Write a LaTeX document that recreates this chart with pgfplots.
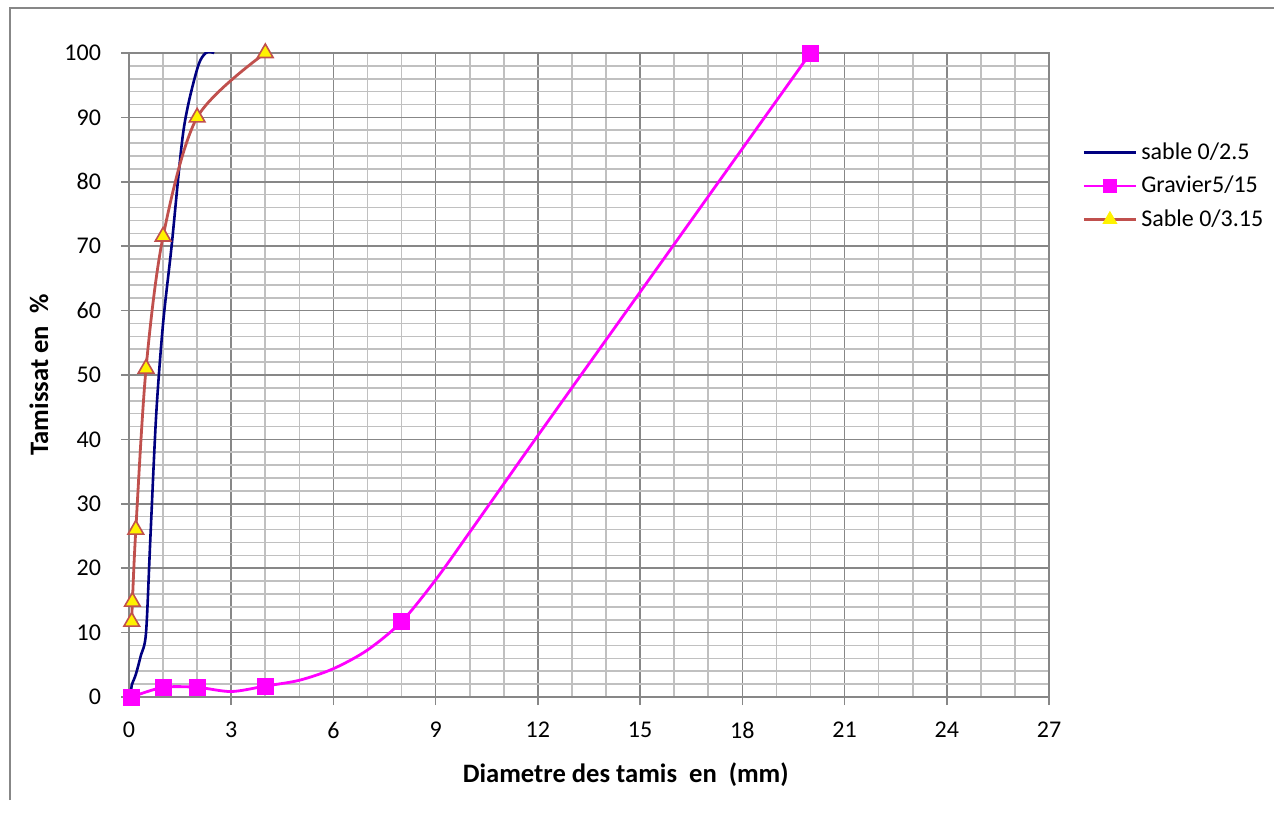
\documentclass[border=0pt]{standalone}
\usepackage{pgfplots}
\pgfplotsset{compat=1.18}
\usepackage{fontspec}
\setmainfont{Carlito}
\definecolor{navyline}{HTML}{000080}
\definecolor{redline}{HTML}{C0504D}
\definecolor{magline}{HTML}{FF00FF}
\definecolor{majgrid}{HTML}{878787}
\definecolor{mingrid}{HTML}{C0C0C0}
\begin{document}
\begin{tikzpicture}
\path[use as bounding box] (0,0) rectangle (637pt,407pt);
\draw[majgrid, line width=0.6pt] (5pt,7pt) -- (5pt,403pt) -- (637pt,403pt);
\begin{axis}[
  at={(64.5pt,58.5pt)}, anchor=south west,
  scale only axis, width=460pt, height=322pt,
  xmin=0, xmax=27, ymin=0, ymax=100,
  xtick={0,3,...,27}, ytick={0,10,...,100},
  minor x tick num=2, minor y tick num=4,
  grid=both,
  major grid style={majgrid, line width=0.8pt},
  minor grid style={mingrid, line width=0.8pt},
  axis line style={majgrid, line width=0.8pt},
  tick style={majgrid, line width=0.8pt},
  major tick length=4pt, minor tick length=0pt,
  tick align=outside, tick pos=left,
  tick label style={font=\fontsize{12}{14}\selectfont, black},
  /pgf/number format/assume math mode=true,
  xticklabel style={yshift=-5pt},
  yticklabel style={xshift=-6.5pt},
  xlabel={\bfseries Diametre des tamis\ \ en\ \ (mm)},
  ylabel={\bfseries Tamissat en\ \ \%},
  label style={font=\fontsize{13.3}{15}\selectfont},
  xlabel style={at={(axis description cs:0.54,-0.121)}, anchor=center},
  ylabel style={at={(axis description cs:-0.098,0.5)}, anchor=center},
  legend style={at={(axis description cs:1.036,0.868)}, anchor=north west,
    draw=none, fill=none, font=\fontsize{12}{14}\selectfont,
    row sep=3pt, inner sep=0pt},
  legend cell align=left,
  legend image code/.code={\draw[mark repeat=2,mark phase=2] plot coordinates {(0pt,0pt) (13pt,0pt) (26pt,0pt)};},
]
\addplot[navyline, line width=1.3pt, smooth, forget plot] coordinates {
 (0.05,0) (0.08,1.8) (0.2,3.5) (0.35,6.5) (0.5,10) (0.63,25) (0.8,44) (1,58) (1.25,70) (1.6,88) (2,97.5) (2.25,100) (2.5,100)
};
% Gravier 5/15 : smoothed line
\addplot[magline, line width=1.4pt, smooth, forget plot] coordinates {
 (0.08,0) (1,1.5) (2,1.5) (3,0.85) (4,1.7) (5,2.6) (6,4.4) (7,7.3) (8,11.7) (9,18.2) (10,25.6) (11,33.1) (12,40.6) (16,70.3) (20,100)
};
% Gravier 5/15 : measured points
\addplot[only marks, mark=square*, mark size=4pt, mark options={fill=magline, draw=magline}, forget plot] coordinates {
 (0.08,0) (1,1.5) (2,1.5) (4,1.7) (8,11.7) (20,100)
};
\addplot[redline, line width=1.4pt, smooth, mark=triangle*, mark size=4.5pt, mark options={fill=yellow, draw=redline, line width=0.8pt}, forget plot] coordinates {
 (0.08,11.7) (0.1,14.8) (0.2,26) (0.5,51) (1,71.5) (2,90) (4,100)
};
\addlegendimage{navyline, line width=1.3pt}
\addlegendentry{sable 0/2.5}
\addlegendimage{magline, line width=1.4pt, mark=square*, mark size=2.6pt, mark options={fill=magline}}
\addlegendentry{Gravier5/15}
\addlegendimage{redline, line width=1.4pt, mark=triangle*, mark size=3pt, mark options={fill=yellow, draw=yellow}}
\addlegendentry{Sable 0/3.15}
\end{axis}
\end{tikzpicture}
\end{document}
